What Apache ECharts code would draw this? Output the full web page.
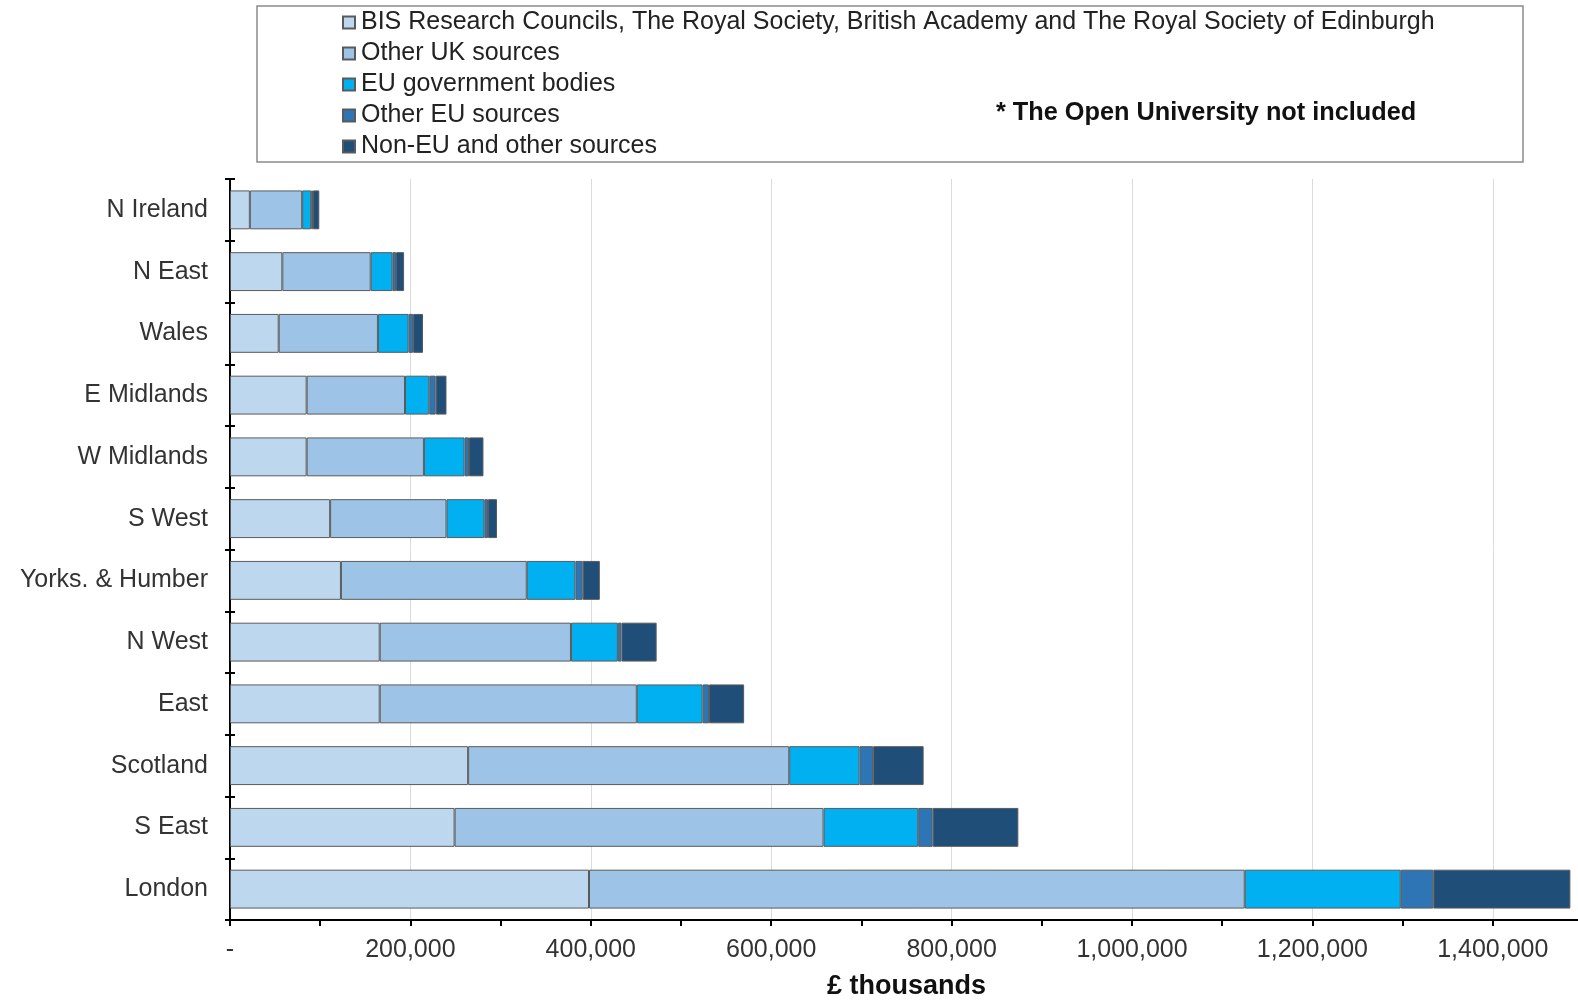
<!DOCTYPE html>
<html>
<head>
<meta charset="utf-8">
<script src="https://cdn.jsdelivr.net/npm/echarts@6/dist/echarts.min.js"></script>
<style>html,body{margin:0;padding:0;background:#fff;}#c{width:1578px;height:1000px;}</style>
</head>
<body>
<div id="c"></div>
<script>
const regions = ['N Ireland','N East','Wales','E Midlands','W Midlands','S West','Yorks. & Humber','N West','East','Scotland','S East','London'];
const seriesNames = ['BIS Research Councils, The Royal Society, British Academy and The Royal Society of Edinburgh','Other UK sources','EU government bodies','Other EU sources','Non-EU and other sources'];
const bisCouncils = [22000, 58000, 54000, 85000, 85000, 111000, 123000, 166000, 166000, 264000, 249000, 398000];
const otherUK = [58000, 98000, 110000, 109000, 130000, 129000, 206000, 212000, 285000, 356000, 409000, 727000];
const euGov = [10000, 24000, 34000, 27000, 45000, 42000, 54000, 52000, 73000, 78000, 105000, 173000];
const otherEU = [2000, 4000, 5000, 7000, 5000, 4000, 8000, 4000, 7000, 15000, 16000, 36000];
const nonEU = [7000, 9000, 11000, 12000, 16000, 10000, 19000, 39000, 39000, 56000, 95000, 152000];
const xTickLabels = {0:'-',200000:'200,000',400000:'400,000',600000:'600,000',800000:'800,000',1000000:'1,000,000',1200000:'1,200,000',1400000:'1,400,000'};
const noteText = '* The Open University not included';
const axisTitle = '£ thousands';

const colors = ['#BDD7EE','#9DC3E6','#00B0F0','#2E75B6','#1F4E79'];
const allData = [bisCouncils, otherUK, euGov, otherEU, nonEU];
const FONT = '"Liberation Sans", Arial, sans-serif';

const chart = echarts.init(document.getElementById('c'), null, {renderer:'canvas'});
const series = seriesNames.map((n, i) => ({
  name: n, type: 'bar', stack: 'total', xAxisIndex: 0, yAxisIndex: 0,
  barCategoryGap: '37%',
  itemStyle: { color: colors[i], borderColor: '#5a5a5a', borderWidth: 1 },
  emphasis: { disabled: true },
  data: allData[i]
}));

chart.setOption({
  animation: false,
  textStyle: { fontFamily: FONT },
  grid: { left: 230, top: 179, width: 1353, height: 741, containLabel: false, outerBoundsMode: 'none' },
  legend: {
    orient: 'vertical', left: 342, top: 10, padding: 0,
    itemWidth: 12, itemHeight: 12, itemGap: 6,
    data: seriesNames,
    icon: 'rect',
    textStyle: { fontFamily: FONT, fontSize: 25, color: '#222', lineHeight: 25, padding: [0,0,0,1] },
    selectedMode: false
  },
  graphic: [
    { type: 'rect', shape: { x: 257, y: 6, width: 1266, height: 156 }, style: { fill: 'none', stroke: '#8a8a8a', lineWidth: 1.5 }, silent: true, z: -1 },
    { type: 'text', x: 996, y: 113, style: { text: noteText, font: 'bold 25.3px ' + FONT, fill: '#111', textVerticalAlign: 'middle' }, silent: true }
  ],
  xAxis: [
    {
      type: 'value', min: 0, max: 1500000, interval: 200000, position: 'bottom',
      name: axisTitle, nameLocation: 'middle', nameGap: 53,
      nameTextStyle: { fontFamily: FONT, fontSize: 27, fontWeight: 'bold', color: '#111' },
      axisLine: { show: true, lineStyle: { color: '#000', width: 2 } },
      axisTick: { show: false },
      axisLabel: { fontFamily: FONT, fontSize: 25, color: '#333', margin: 18,
        formatter: v => (v in xTickLabels ? xTickLabels[v] : '') },
      splitLine: { show: true, lineStyle: { color: '#dcdcdc', width: 1 } }
    },
    {
      type: 'value', min: 0, max: 1500000, interval: 100000, position: 'bottom',
      axisLine: { show: false },
      axisTick: { show: true, inside: false, length: 6, lineStyle: { color: '#000', width: 2 } },
      axisLabel: { show: false },
      splitLine: { show: false }
    }
  ],
  yAxis: [
    {
      type: 'category', data: regions, inverse: true, position: 'left',
      axisLine: { show: true, lineStyle: { color: '#000', width: 2 } },
      axisTick: { show: true, inside: false, length: 5, lineStyle: { color: '#000', width: 2 } },
      axisLabel: { fontFamily: FONT, fontSize: 25, color: '#333', margin: 22 },
      splitLine: { show: false }
    },
    {
      type: 'category', data: regions, inverse: true, position: 'left',
      axisLine: { show: false },
      axisTick: { show: true, inside: true, length: 5, lineStyle: { color: '#000', width: 2 } },
      axisLabel: { show: false },
      splitLine: { show: false }
    }
  ],
  series: series
});
</script>
</body>
</html>
